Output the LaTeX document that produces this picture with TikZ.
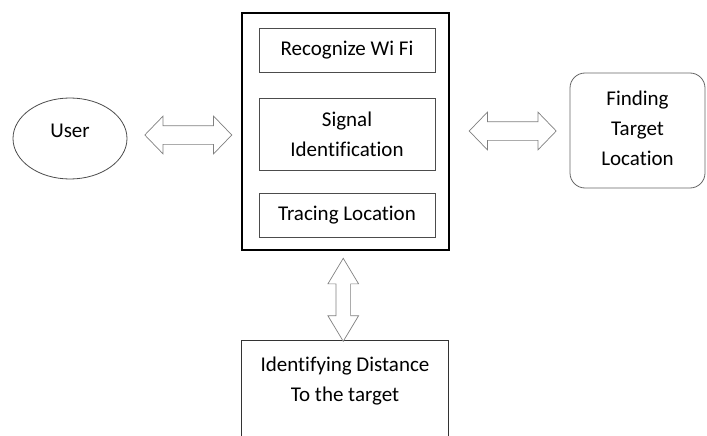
\documentclass[tikz,border=0pt]{standalone}
\usepackage{fontspec}
\setmainfont[Ligatures=CommonOff]{Carlito}
\usetikzlibrary{shapes.geometric, shapes.arrows, calc}

\tikzset{
  txt/.style={font=\fontsize{21}{30}\selectfont, align=center, inner sep=0pt},
  framebox/.style={draw=black, line width=1.6pt, minimum width=207pt, minimum height=237pt},
  stepbox/.style={txt, draw=black!70, line width=0.8pt, minimum width=176pt},
  userell/.style={txt, ellipse, draw=black!70, line width=0.8pt, minimum width=114pt, minimum height=81pt, text depth=16pt},
  goalbox/.style={txt, draw=black!60, line width=0.8pt, rounded corners=15pt, minimum width=135pt, minimum height=115pt},
  distbox/.style={txt, minimum width=206pt, minimum height=80pt},
  harrow/.style={double arrow, draw=black!50, fill=white, line width=0.7pt, inner sep=9pt,
    double arrow head extend=9.5pt, double arrow tip angle=92, minimum height=87pt},
  varrow/.style={double arrow, draw=black!50, fill=white, line width=0.7pt, inner sep=7pt,
    double arrow head extend=8pt, double arrow tip angle=62, minimum height=83pt, rotate=90}
}

\begin{document}
\begin{tikzpicture}[x=1pt,y=-1pt]
\useasboundingbox (0,0) rectangle (707,436);

% central block
\node[framebox] (core) at (345.5,131.5) {};
\node[stepbox, minimum height=44pt] (wifi) at (347,50) {Recognize Wi Fi};
\node[stepbox, minimum height=72pt] (signal) at (347,134) {Signal\\Identification};
\node[stepbox, minimum height=44pt] (trace) at (347,215) {Tracing Location};

% outer blocks
\node[userell] (user) at (70,138.5) {User};
\node[goalbox, text depth=4pt] (target) at (637.5,130.5) {Finding\\Target\\Location};
\node[distbox] (dist) at (345,381) {Identifying Distance\\To the target};
\draw[black!80, line width=0.8pt] ([yshift=-40pt]dist.south west) -- (dist.north west)
  -- (dist.north east) -- ([yshift=-40pt]dist.south east);

% two-way arrows
\node[harrow] (ua) at ($(user.east)!0.5!(core.west)+(4,0)$) {};
\node[harrow] (ta) at ($(core.east)!0.5!(target.west)+(3,0)$) {};
\node[varrow] (da) at ($(core.south)!0.5!(dist.north)+(-2,4)$) {};
\end{tikzpicture}
\end{document}
